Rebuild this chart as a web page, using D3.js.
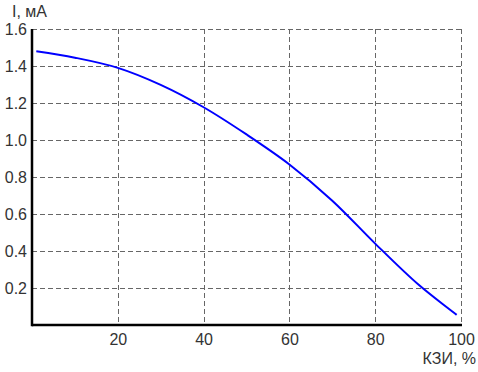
<!DOCTYPE html>
<html>
<head>
<meta charset="utf-8">
<script src="https://cdn.jsdelivr.net/npm/d3@7"></script>
<style>
  body { margin: 0; background: #fff; }
  svg text { font-family: "Liberation Sans", Arial, sans-serif; font-size: 16px; fill: #333; }
  .grid line { stroke: #666; stroke-width: 1; stroke-dasharray: 5,3; }
</style>
</head>
<body>
<div id="chart"></div>
<script>
// КЗИ, % vs I, мА
const kzi = [1, 10, 20, 30, 40, 50, 60, 70, 80, 90, 99];
const current = [1.48, 1.445, 1.39, 1.298, 1.177, 1.03, 0.868, 0.672, 0.44, 0.22, 0.055];
const xTicks = [20, 40, 60, 80, 100];
const yTicks = [0.2, 0.4, 0.6, 0.8, 1.0, 1.2, 1.4, 1.6];

const width = 478, height = 372;
const plotLeft = 32, plotRight = 461, plotTop = 29, plotBottom = 325;

const svg = d3.select('#chart').append('svg')
  .attr('width', width)
  .attr('height', height);

const x = d3.scaleLinear().domain([0, 100]).range([plotLeft, plotRight]);
const y = d3.scaleLinear().domain([0, 1.6]).range([plotBottom, plotTop]);

// dashed grid
const grid = svg.append('g').attr('class', 'grid');
grid.selectAll('line.h')
  .data(yTicks)
  .join('line')
  .attr('class', 'h')
  .attr('x1', plotLeft).attr('x2', plotRight)
  .attr('y1', d => Math.round(y(d)) + 0.5)
  .attr('y2', d => Math.round(y(d)) + 0.5);
grid.selectAll('line.v')
  .data(xTicks)
  .join('line')
  .attr('class', 'v')
  .attr('x1', d => Math.round(x(d)) + 0.5)
  .attr('x2', d => Math.round(x(d)) + 0.5)
  .attr('y1', plotTop).attr('y2', plotBottom);

// axes (labels only, no tick marks)
const yAxis = svg.append('g')
  .attr('transform', `translate(${plotLeft - 5},0)`)
  .call(d3.axisLeft(y).tickValues(yTicks).tickFormat(d3.format('.1f')).tickSize(0).tickPadding(0));
yAxis.select('.domain').remove();
yAxis.selectAll('text').attr('dy', '0.36em');

const xAxis = svg.append('g')
  .attr('transform', `translate(0,${plotBottom})`)
  .call(d3.axisBottom(x).tickValues(xTicks).tickFormat(d3.format('d')).tickSize(0).tickPadding(9));
xAxis.select('.domain').remove();

// axis lines
svg.append('line')
  .attr('x1', plotLeft).attr('x2', plotLeft)
  .attr('y1', plotTop).attr('y2', plotBottom + 1.2)
  .attr('stroke', '#000').attr('stroke-width', 2.5);
svg.append('line')
  .attr('x1', plotLeft).attr('x2', plotRight + 1)
  .attr('y1', plotBottom).attr('y2', plotBottom)
  .attr('stroke', '#000').attr('stroke-width', 2.5);

// curve
const line = d3.line()
  .x((d, i) => x(kzi[i]))
  .y(d => y(d))
  .curve(d3.curveCatmullRom);
svg.append('path')
  .datum(current)
  .attr('d', line)
  .attr('fill', 'none')
  .attr('stroke', '#0000ff')
  .attr('stroke-width', 2);

// axis titles
svg.append('text').attr('x', 12).attr('y', 17).text('I, мА');
svg.append('text').attr('x', 476).attr('y', 364).attr('text-anchor', 'end').text('КЗИ, %');
</script>
</body>
</html>
